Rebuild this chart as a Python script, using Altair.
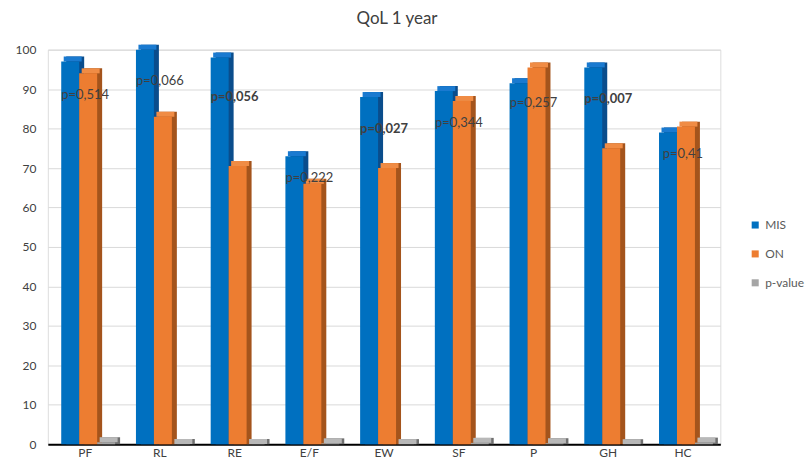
import altair as alt
import pandas as pd

categories = ["PF", "RL", "RE", "E/F", "EW", "SF", "P", "GH", "HC"]
series = ["MIS", "ON", "p-value"]
mis = [97, 100, 98, 73, 88, 89.5, 91.5, 95.5, 79]
on = [94, 83, 70.5, 66, 70, 87, 95.5, 75, 80.5]
pvals = [0.514, 0.066, 0.056, 0.222, 0.027, 0.344, 0.257, 0.007, 0.41]
label_y = [88.5, 92, 88, 67.5, 80, 81.5, 86.5, 87.5, 73.5]
bold = [False, False, True, False, True, False, False, True, False]

front_colors = ["#0070c0", "#ed7d31", "#a5a5a5"]
side_colors = ["#0a4d8c", "#a4541c", "#6f6f6f"]
cap_colors = ["#1a7ad0", "#f08c45", "#b8b8b8"]

rows = []
for i, c in enumerate(categories):
    for s, vals in zip(series, [mis, on, pvals]):
        rows.append({"cat": c, "series": s, "value": vals[i]})
bars = pd.DataFrame(rows)

labels = pd.DataFrame({
    "cat": categories,
    "text": ["p=" + str(p).replace(".", ",") for p in pvals],
    "ly": label_y,
    "bold": bold,
})

FONT = "Lato"
STEP = 75

x = alt.X("cat:N", sort=categories,
          scale=alt.Scale(paddingInner=0, paddingOuter=0),
          axis=alt.Axis(title=None, labelAngle=0, ticks=False, domainColor="#000000",
                        domainWidth=2, labelFontSize=12, labelColor="#404040",
                        labelFont=FONT, labelPadding=3, grid=False))


def xoff(shift):
    return alt.XOffset("series:N", sort=series,
                       scale=alt.Scale(domain=series, paddingInner=0, paddingOuter=0.58,
                                       range=[shift + 3, STEP + shift + 3]))


yaxis = alt.Axis(title=None, values=list(range(0, 101, 10)), domain=False,
                 ticks=False, labelFontSize=12, labelColor="#404040",
                 labelFont=FONT, labelPadding=12, gridColor="#d9d9d9",
                 labelOverlap=False)
yscale = alt.Scale(domain=[0, 100], nice=False)
y = alt.Y("value:Q", stack=None, scale=yscale, axis=yaxis)

side = alt.Chart(bars).mark_bar(yOffset=-5, y2Offset=-5).encode(
    x=x, xOffset=xoff(5), y=y,
    color=alt.Color("series:N", scale=alt.Scale(domain=series, range=side_colors), legend=None),
)
cap = alt.Chart(bars).mark_bar(yOffset=-5).encode(
    x=x, xOffset=xoff(2.5), y=y, y2=alt.Y2("value:Q"),
    color=alt.Color("series:N", scale=alt.Scale(domain=series, range=cap_colors), legend=None),
)
front = alt.Chart(bars).mark_bar().encode(
    x=x, xOffset=xoff(0), y=y,
    color=alt.Color("series:N", scale=alt.Scale(domain=series, range=front_colors),
                    legend=alt.Legend(title=None, orient="none", legendX=704, legendY=170,
                                      symbolType="square", symbolSize=50,
                                      labelFontSize=12, labelColor="#595959",
                                      labelFont=FONT, rowPadding=17)),
)

ylab = alt.Y("ly:Q", scale=yscale, axis=yaxis)
txt_normal = alt.Chart(labels).transform_filter("!datum.bold").mark_text(
    fontSize=13, color="#404040", font=FONT, baseline="middle", align="center"
).encode(x=x, y=ylab, text="text:N")
txt_bold = alt.Chart(labels).transform_filter("datum.bold").mark_text(
    fontSize=13, color="#404040", font=FONT, baseline="middle", align="center", fontWeight="bold"
).encode(x=x, y=ylab, text="text:N")

chart = alt.layer(side, cap, front, txt_normal, txt_bold).resolve_scale(
    color="independent", xOffset="independent"
).properties(
    width=675, height=396,
    padding={"left": 15, "top": 9, "right": 5, "bottom": 5},
    title=alt.Title("QoL 1 year", fontSize=17, font=FONT, color="#404040",
                    fontWeight="normal", offset=16, dx=13),
).configure_view(stroke=None).configure(background="white")

chart.save("out.html", embed_options={"renderer": "svg", "actions": False})
